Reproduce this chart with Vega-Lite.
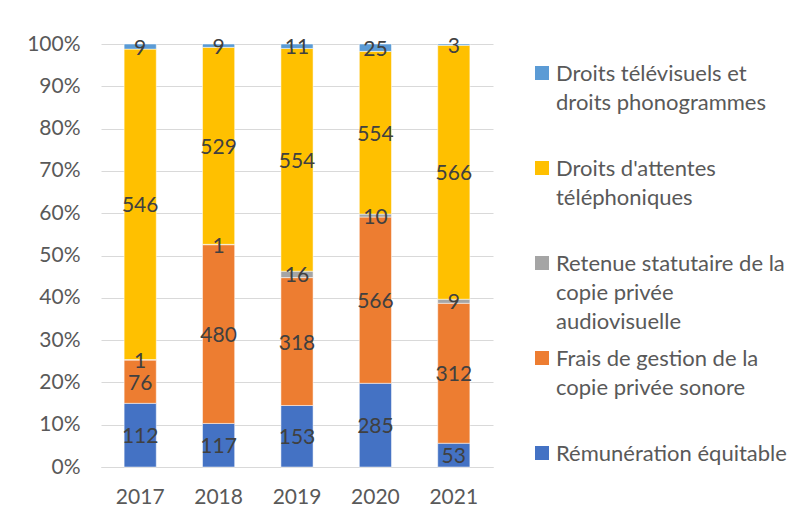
{
  "$schema": "https://vega.github.io/schema/vega-lite/v6.json",
  "width": 392,
  "height": 423,
  "autosize": "none",
  "padding": {"left": 101, "top": 44, "right": 309, "bottom": 53},
  "background": "white",
  "config": {
    "font": "Lato",
    "view": {"stroke": null},
    "style": {"guide-label": {"lineHeight": 29, "dy": -9}}
  },
  "data": {
    "values": [
      {"year": "2017", "serie": "Rémunération équitable", "rank": 1, "value": 112},
      {"year": "2017", "serie": "Frais de gestion de la copie privée sonore", "rank": 2, "value": 76},
      {"year": "2017", "serie": "Retenue statutaire de la copie privée audiovisuelle", "rank": 3, "value": 1},
      {"year": "2017", "serie": "Droits d'attentes téléphoniques", "rank": 4, "value": 546},
      {"year": "2017", "serie": "Droits télévisuels et droits phonogrammes", "rank": 5, "value": 9},
      {"year": "2018", "serie": "Rémunération équitable", "rank": 1, "value": 117},
      {"year": "2018", "serie": "Frais de gestion de la copie privée sonore", "rank": 2, "value": 480},
      {"year": "2018", "serie": "Retenue statutaire de la copie privée audiovisuelle", "rank": 3, "value": 1},
      {"year": "2018", "serie": "Droits d'attentes téléphoniques", "rank": 4, "value": 529},
      {"year": "2018", "serie": "Droits télévisuels et droits phonogrammes", "rank": 5, "value": 9},
      {"year": "2019", "serie": "Rémunération équitable", "rank": 1, "value": 153},
      {"year": "2019", "serie": "Frais de gestion de la copie privée sonore", "rank": 2, "value": 318},
      {"year": "2019", "serie": "Retenue statutaire de la copie privée audiovisuelle", "rank": 3, "value": 16},
      {"year": "2019", "serie": "Droits d'attentes téléphoniques", "rank": 4, "value": 554},
      {"year": "2019", "serie": "Droits télévisuels et droits phonogrammes", "rank": 5, "value": 11},
      {"year": "2020", "serie": "Rémunération équitable", "rank": 1, "value": 285},
      {"year": "2020", "serie": "Frais de gestion de la copie privée sonore", "rank": 2, "value": 566},
      {"year": "2020", "serie": "Retenue statutaire de la copie privée audiovisuelle", "rank": 3, "value": 10},
      {"year": "2020", "serie": "Droits d'attentes téléphoniques", "rank": 4, "value": 554},
      {"year": "2020", "serie": "Droits télévisuels et droits phonogrammes", "rank": 5, "value": 25},
      {"year": "2021", "serie": "Rémunération équitable", "rank": 1, "value": 53},
      {"year": "2021", "serie": "Frais de gestion de la copie privée sonore", "rank": 2, "value": 312},
      {"year": "2021", "serie": "Retenue statutaire de la copie privée audiovisuelle", "rank": 3, "value": 9},
      {"year": "2021", "serie": "Droits d'attentes téléphoniques", "rank": 4, "value": 566},
      {"year": "2021", "serie": "Droits télévisuels et droits phonogrammes", "rank": 5, "value": 3}
    ]
  },
  "encoding": {
    "x": {
      "field": "year",
      "type": "ordinal",
      "scale": {"paddingInner": 0.59, "paddingOuter": 0.295},
      "axis": {
        "title": null,
        "labelAngle": 0,
        "labelFontSize": 21,
        "labelColor": "#595959",
        "ticks": false,
        "domainColor": "#D9D9D9",
        "domainWidth": 1,
        "labelPadding": 28,
        "grid": false
      }
    },
    "order": {"field": "rank", "type": "quantitative"}
  },
  "layer": [
    {
      "mark": {"type": "bar", "stroke": "white", "strokeWidth": 0.5},
      "encoding": {
        "y": {
          "field": "value",
          "type": "quantitative",
          "stack": "normalize",
          "axis": {
            "title": null,
            "format": "%",
            "values": [0, 0.1, 0.2, 0.3, 0.4, 0.5, 0.6, 0.7, 0.8, 0.9, 1],
            "labelFontSize": 21,
            "labelColor": "#595959",
            "ticks": false,
            "domain": false,
            "gridColor": "#D9D9D9",
            "gridWidth": 1,
            "labelPadding": 21,
            "labelOffset": 9
          }
        },
        "color": {
          "field": "serie",
          "type": "nominal",
          "scale": {
            "domain": [
              "Droits télévisuels et droits phonogrammes",
              "Droits d'attentes téléphoniques",
              "Retenue statutaire de la copie privée audiovisuelle",
              "Frais de gestion de la copie privée sonore",
              "Rémunération équitable"
            ],
            "range": ["#5B9BD5", "#FFC000", "#A5A5A5", "#ED7D31", "#4472C4"]
          },
          "legend": {
            "title": null,
            "orient": "none",
            "legendX": 430,
            "legendY": 18,
            "symbolType": "square",
            "symbolSize": 196,
            "symbolStrokeWidth": 0,
            "labelFontSize": 22,
            "labelColor": "#595959",
            "labelLimit": 300,
            "labelOffset": 3,
            "labelBaseline": "top",
            "gridAlign": "all",
            "rowPadding": 14,
            "labelExpr": "datum.label == 'Droits télévisuels et droits phonogrammes' ? ['Droits télévisuels et', 'droits phonogrammes'] : datum.label == 'Droits d\\'attentes téléphoniques' ? ['Droits d\\'attentes', 'téléphoniques'] : datum.label == 'Retenue statutaire de la copie privée audiovisuelle' ? ['Retenue statutaire de la', 'copie privée', 'audiovisuelle'] : datum.label == 'Frais de gestion de la copie privée sonore' ? ['Frais de gestion de la', 'copie privée sonore'] : datum.label"
          }
        }
      }
    },
    {
      "mark": {"type": "text", "fontSize": 21, "color": "#404040", "dy": 2},
      "encoding": {
        "y": {"field": "value", "type": "quantitative", "stack": "normalize", "bandPosition": 0.5},
        "detail": {"field": "serie"},
        "text": {"field": "value", "type": "quantitative"}
      }
    }
  ]
}
